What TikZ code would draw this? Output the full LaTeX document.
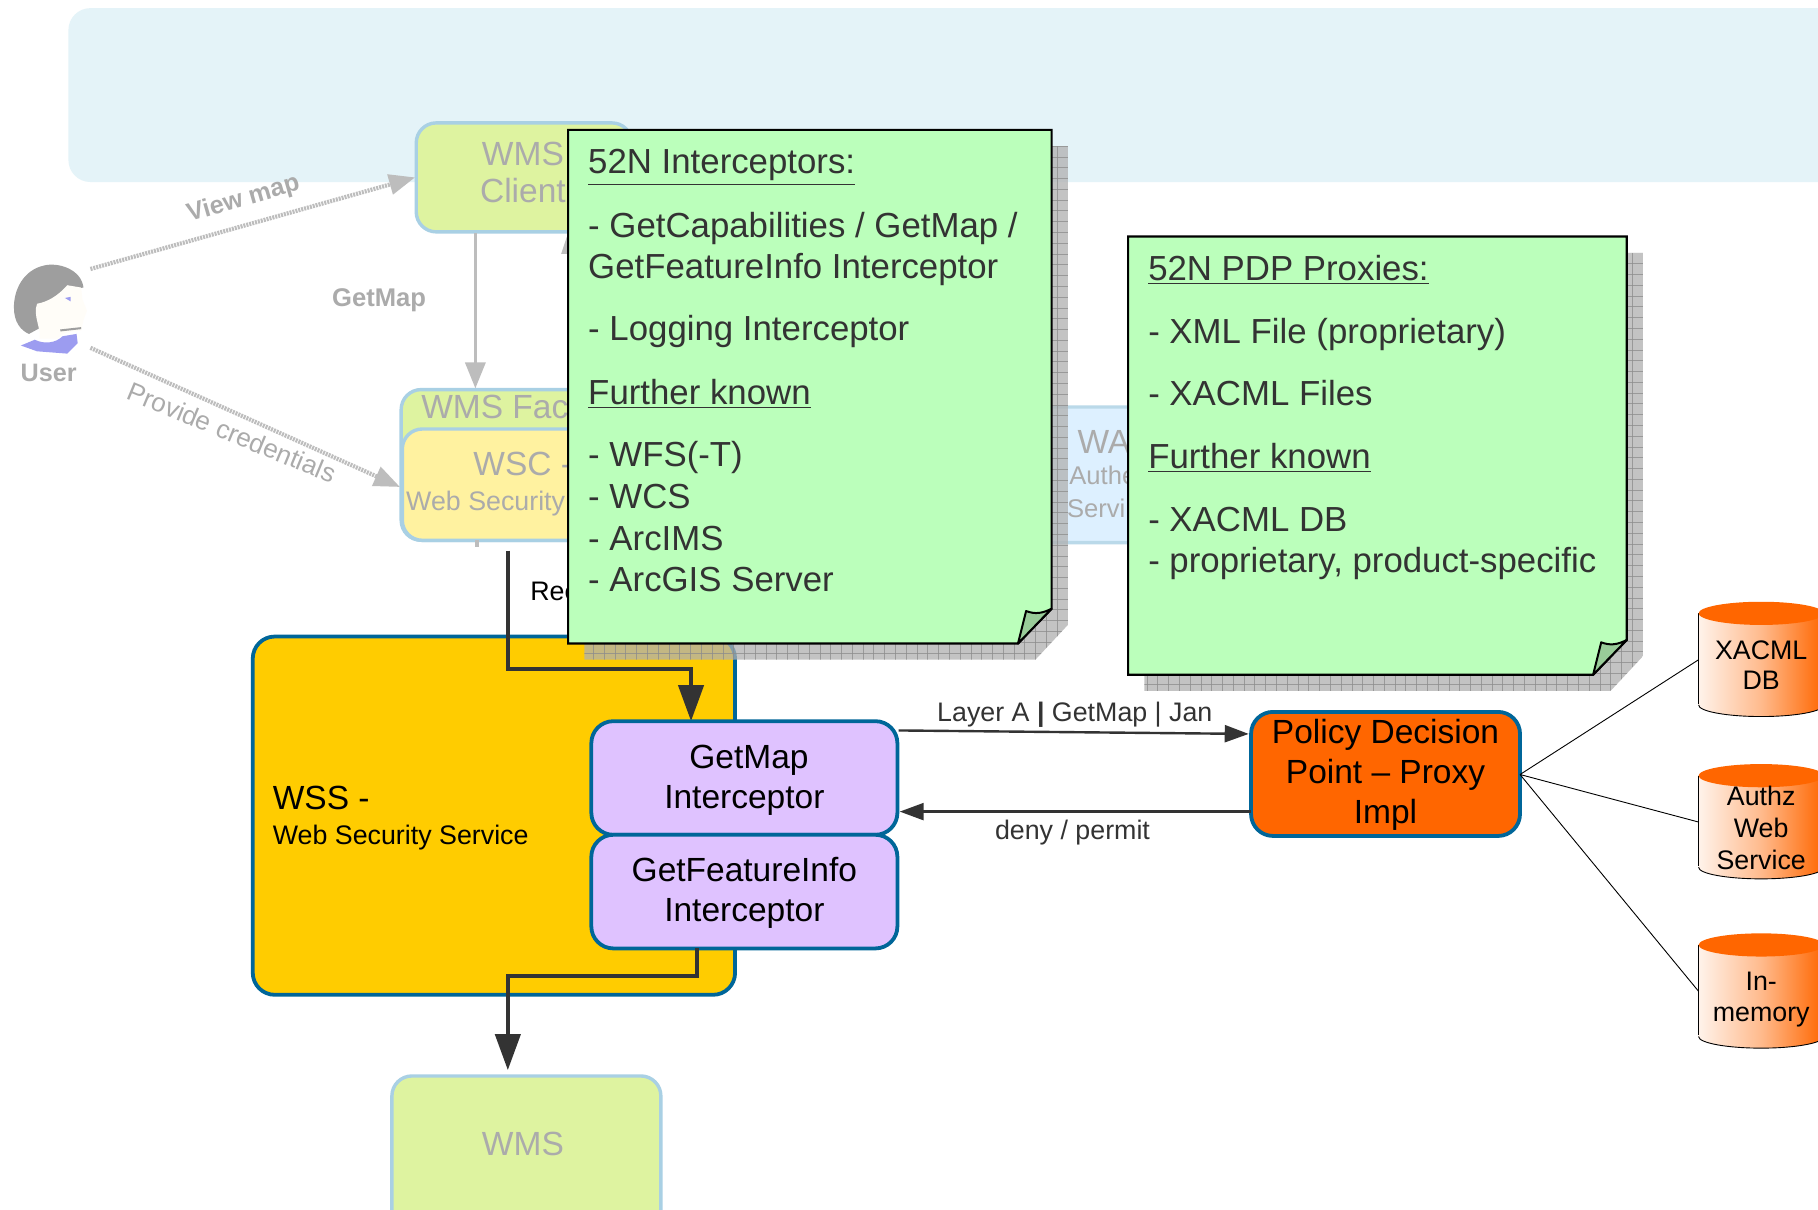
\documentclass[tikz,border=0pt]{standalone}
\usepackage{fontspec}
\setmainfont{Liberation Sans}
\usetikzlibrary{arrows.meta}
\definecolor{bandc}{HTML}{E4F3F8}
\definecolor{fadeline}{HTML}{A9D0E4}
\definecolor{fadegreen}{HTML}{DEF3A0}
\definecolor{fadeyellow}{HTML}{FFF2A0}
\definecolor{fadeblue}{HTML}{DDF0FF}
\definecolor{fadetext}{HTML}{ABABAB}
\definecolor{fadearrow}{HTML}{BDBDBD}
\definecolor{solidline}{HTML}{006699}
\definecolor{wssc}{HTML}{FFCC00}
\definecolor{purplec}{HTML}{DFC2FF}
\definecolor{orangec}{HTML}{FF6600}
\definecolor{notec}{HTML}{BBFFBB}
\definecolor{foldc}{HTML}{99CC99}
\definecolor{inkc}{HTML}{333333}
\definecolor{shadowc}{HTML}{B0B0B0}
\definecolor{gridc}{HTML}{8C8C8C}
\definecolor{facec}{HTML}{FFFDF8}
\definecolor{collarc}{HTML}{9C9CF0}
\tikzset{
  x=0.5797pt,y=-0.5797pt,
  sz/.style 2 args={minimum width=#1*0.5797pt,minimum height=#2*0.5797pt,inner sep=0pt,outer sep=0pt},
  fadebox/.style={draw=fadeline,line width=1.7pt,rounded corners=10pt},
  solidbox/.style={draw=solidline,line width=1.9pt,rounded corners=11pt},
  big/.style={font=\fontsize{16.75}{20}\selectfont},
  notefont/.style={font=\fontsize{17.4}{21}\selectfont,text=inkc,anchor=base west,inner sep=0pt},
  small/.style={font=\fontsize{13.4}{16}\selectfont},
  ftext/.style={text=fadetext,inner sep=0pt},
  solidtext/.style={text=black,inner sep=0pt,anchor=base},
  farrow/.style={draw=fadearrow,line width=1.7pt,-{Triangle[length=13pt,width=10pt,fill=fadearrow]}},
  farrowd/.style={draw=fadearrow,line width=2.1pt,dash pattern=on 1pt off .5pt,-{Triangle[length=13pt,width=10pt,fill=fadearrow]}},
  bigarrow/.style={draw=inkc,line width=2.1pt,-{Triangle[length=18pt,width=12.5pt,fill=inkc]}},
  midarrow/.style={draw=inkc,line width=1.2pt,-{Triangle[length=12pt,width=8.5pt,fill=inkc]}},
  thinline/.style={draw=black,line width=0.45pt},
}
\newcommand{\stickynote}[4]{%
  \begin{scope}
    \clip (#1+14,#2+14) -- (#3+14,#2+14) -- (#3+14,#4-16) -- (#3-14,#4+14) -- (#1+14,#4+14) -- cycle;
    \fill[shadowc,opacity=.75] (#1+14,#2+14) rectangle (#3+14,#4+14);
    \foreach \g in {0,9.3,...,1100} {
      \draw[gridc,line width=.3pt,opacity=.75] (#1+14,#2+14+\g) -- (#3+14,#2+14+\g);
      \draw[gridc,line width=.3pt,opacity=.75] (#3+14-\g,#2+14) -- (#3+14-\g,#4+14);
    }
  \end{scope}
  \draw[fill=notec,draw=black,line width=1.1pt,line join=miter] (#1,#2) -- (#3,#2) -- (#3,#4-30) -- (#3-29,#4) -- (#1,#4) -- cycle;
  \draw[fill=foldc,draw=black,line width=1pt,line join=round] (#3-29,#4) -- (#3-22,#4-28) .. controls (#3-14,#4-25) and (#3-8,#4-26) .. (#3,#4-30) -- cycle;
}
\newcommand{\drum}[2]{% top y, name
  \shade[left color=white!92!orangec,right color=orangec,middle color=orangec!45] (1465,#1+9) -- (1465,#1+88) arc[start angle=180,end angle=0,x radius=54,y radius=10] -- (1573,#1+9) -- cycle;
  \draw[black,line width=.45pt] (1465,#1+9) -- (1465,#1+87);
  \draw[black,line width=.45pt] (1465,#1+88) arc[start angle=180,end angle=0,x radius=54,y radius=10];
  \fill[orangec] (1519,#1+9) ellipse[x radius=54,y radius=10];
  \coordinate (#2) at (1465,#1+49);
}
\begin{document}
\begin{tikzpicture}
\useasboundingbox (0,0) rectangle (1568,1043.6);
\clip (0,0) rectangle (1568,1043.6);
\fill[white] (0,0) rectangle (1568,1043.6);
% band
\node[sz={1541}{150},fill=bandc,rounded corners=11pt] (band) at (829.5,82) {};
% faded boxes
\node[fadebox,fill=fadegreen,sz={186}{94}] (client) at (452,153) {};
\node[ftext,big,anchor=base] (clienta) at (451,143) {WMS};
\node[ftext,big,anchor=base] (clientb) at (451,175) {Client};
\node[fadebox,fill=fadegreen,sz={300}{130}] (facade) at (496,401) {};
\node[ftext,big,anchor=base west] (facadet) at (363,361) {WMS Fac};
\node[fadebox,fill=fadeyellow,sz={300}{96}] (wsc) at (497,418) {};
\node[ftext,big,anchor=base west] (wsca) at (408,410) {WSC -};
\node[ftext,small,anchor=base west] (wscb) at (350,440) {Web Security};
\node[fadebox,fill=fadeblue,sz={150}{117},draw=fadeline!80] (was) at (920,409.5) {};
\node[ftext,big,anchor=base west] (wasa) at (929,391) {WA};
\node[ftext,font=\fontsize{12.8}{15}\selectfont,anchor=base west] (wasb) at (922,418) {Authe};
\node[ftext,font=\fontsize{12.8}{15}\selectfont,anchor=base west] (wasc) at (920,446) {Servi};
\node[fadebox,fill=fadegreen,sz={232}{150}] (wmsbox) at (454,1003) {};
\node[ftext,big,anchor=base] (wmst) at (451,997) {WMS};
% user
\fill[black!38] (72,248) .. controls (70,232) and (50,226) .. (38,229) .. controls (20,233) and (12,250) .. (12,265) .. controls (12,278) and (18,285) .. (25,288) -- (36,282) -- (66,284) -- (60,250) -- cycle;
\fill[facec] (32,262) .. controls (42,260) and (50,255) .. (58,246) -- (70,248) -- (71,258) -- (75,268) -- (72,276) -- (70,285) .. controls (60,286) and (52,287) .. (50,292) -- (34,292) .. controls (36,284) and (28,272) .. (32,262) -- cycle;
\draw[black!38,line width=1pt] (52,285) -- (70,283);
\fill[collarc] (18,298) -- (30,293) .. controls (38,297) and (48,296) .. (54,290) -- (66,288) -- (67,296) -- (58,305) -- (32,303) -- cycle;
\fill[collarc] (56,257) -- (61,256) -- (61,260) -- cycle;
\node[ftext,font=\fontsize{12.6}{15}\selectfont\bfseries,text=fadetext,anchor=base] (user) at (42,329) {User};
\coordinate (userTop) at (78,232);
\coordinate (userBot) at (78,300);
\coordinate (clientIn) at (358,153);
\coordinate (wscIn) at (345,420);
% faded connectors
\draw[farrowd] (userTop) -- (clientIn);
\draw[farrowd] (userBot) -- (wscIn);
\coordinate (clientOut) at (410,201);
\coordinate (facadeIn) at (410,335);
\draw[farrow] (clientOut) -- (facadeIn);
\fill[fadearrow] (410,466) rectangle (413,472);
\fill[fadearrow] (484,219) -- (489,204) -- (491,204) -- (491,219) -- cycle;
\node[ftext,font=\fontsize{12.6}{16}\selectfont\bfseries,rotate=16] (viewt) at (210,172) {View map};
\node[ftext,font=\fontsize{12.8}{16}\selectfont\bfseries] (getmapt) at (327,259) {GetMap};
\node[ftext,font=\fontsize{13.1}{16}\selectfont,rotate=-22.5] (provt) at (200,373) {Provide credentials};
\node[small,text=black,anchor=base west,inner sep=0pt] (rec) at (457,518) {Rec};
% WSS
\node[solidbox,fill=wssc,sz={416}{309}] (wss) at (426,703.5) {};
\node[solidtext,big,anchor=base west] (wssa) at (235,698) {WSS -};
\node[solidtext,small,anchor=base west] (wssb) at (235,728) {Web Security Service};
% notes
\stickynote{490}{112}{907}{555}
\stickynote{973}{204}{1403}{582}
\node[notefont] (na) at (507,150) {\underline{52N Interceptors:}};
\node[notefont] (nb) at (507,205) {- GetCapabilities / GetMap /};
\node[notefont] (nc) at (507,240) {GetFeatureInfo Interceptor};
\node[notefont] (nd) at (507,294) {- Logging Interceptor};
\node[notefont] (ne) at (507,349) {\underline{Further known}};
\node[notefont] (nf) at (507,402) {- WFS(-T)};
\node[notefont] (ng) at (507,439) {- WCS};
\node[notefont] (nh) at (507,475) {- ArcIMS};
\node[notefont] (ni) at (507,510) {- ArcGIS Server};
\node[notefont] (pa) at (990,242) {\underline{52N PDP Proxies:}};
\node[notefont] (pb) at (990,296) {- XML File (proprietary)};
\node[notefont] (pc) at (990,350) {- XACML Files};
\node[notefont] (pd) at (990,404) {\underline{Further known}};
\node[notefont] (pe) at (990,458) {- XACML DB};
\node[notefont] (pf) at (990,494) {- proprietary, product-specific};
% interceptors
\coordinate (reqStart) at (438,475);
\coordinate (gmIn) at (596,622);
\coordinate (reqBend) at (596,577);
\draw[bigarrow] (reqStart) |- (reqBend) -- (gmIn);
\node[solidbox,fill=purplec,sz={264}{98}] (gm) at (642,671) {};
\node[solidtext,big] (gma) at (646,663) {GetMap};
\node[solidtext,big] (gmb) at (642,697) {Interceptor};
\node[solidbox,fill=purplec,sz={264}{98}] (gf) at (642,769) {};
\node[solidtext,big] (gfa) at (642,760) {GetFeatureInfo};
\node[solidtext,big] (gfb) at (642,795) {Interceptor};
\coordinate (gfOut) at (601,818);
\coordinate (gfBend) at (438,842);
\coordinate (wmsIn) at (438,923);
\draw[bigarrow] (gfOut) |- (gfBend) -- (wmsIn);
% PDP
\node[solidbox,fill=orangec,sz={232}{107}] (pdp) at (1195,667.5) {};
\node[solidtext,big] (pdpa) at (1195,641) {Policy Decision};
\node[solidtext,big] (pdpb) at (1195,676) {Point – Proxy};
\node[solidtext,big] (pdpc) at (1195,710) {Impl};
\coordinate (reqOut) at (775,630);
\coordinate (pdpIn) at (1077,633);
\coordinate (pdpOut) at (1079,700);
\coordinate (gmBack) at (776,700);
\draw[midarrow] (reqOut) -- (pdpIn);
\draw[midarrow] (pdpOut) -- (gmBack);
\node[small,text=inkc,inner sep=0pt,anchor=base] (lab1) at (927,622) {Layer A \textbf{|} GetMap | Jan};
\node[small,text=inkc,inner sep=0pt,anchor=base] (lab2) at (925,724) {deny / permit};
% drums
\drum{520}{dbA}
\drum{660}{dbB}
\drum{806}{dbC}
\node[solidtext,small] (xa) at (1519,569) {XACML};
\node[solidtext,small] (xb) at (1519,595) {DB};
\node[solidtext,small] (aa) at (1519,695) {Authz};
\node[solidtext,small] (ab) at (1519,722) {Web};
\node[solidtext,small] (ac) at (1519,750) {Service};
\node[solidtext,small] (ma) at (1519,854) {In-};
\node[solidtext,small] (mb) at (1519,881) {memory};
\coordinate (pdpR) at (1311,668);
\draw[thinline] (pdpR) -- (dbA);
\draw[thinline] (pdpR) -- (dbB);
\draw[thinline] (pdpR) -- (dbC);
\end{tikzpicture}
\end{document}
